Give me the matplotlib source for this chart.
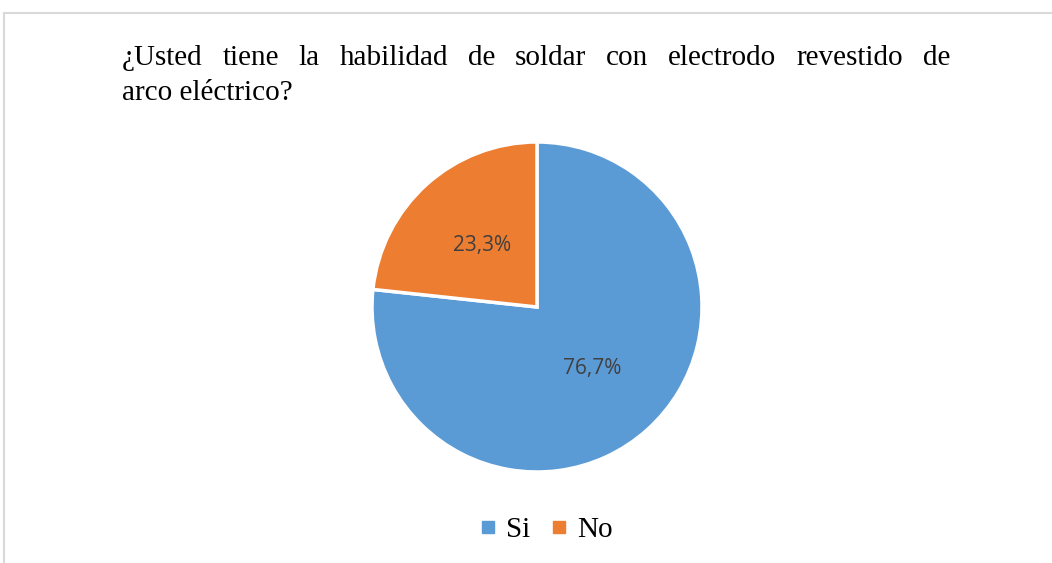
import matplotlib
matplotlib.use("Agg")
import matplotlib.pyplot as plt
from matplotlib.patches import Rectangle
from matplotlib.lines import Line2D

categories = ["Si", "No"]
values = [76.7, 23.3]
colors = ["#5B9BD5", "#ED7D31"]
title_line1 = "¿Usted tiene la habilidad de soldar con electrodo revestido de"
title_line2 = "arco eléctrico?"

W, H = 1052, 563
fig = plt.figure(figsize=(W/100, H/100), dpi=100)
fig.patch.set_facecolor("white")

# border
fig.patches.append(Rectangle((4/W, -0.1), 1.2, 1 - 13/H + 0.1, transform=fig.transFigure,
                             fill=False, edgecolor="#D9D9D9", linewidth=1.5))

# title, justified first line
serif = ["Liberation Serif", "DejaVu Serif"]
tsize = 21
x0, x1 = 122/W, 950/W
words = title_line1.split(" ")
renderer = fig.canvas.get_renderer()
texts = []
widths = []
for w in words:
    t = fig.text(0, 1 - 65/H, w, fontsize=tsize, family=serif, va="baseline", ha="left")
    bb = t.get_window_extent(renderer=renderer)
    texts.append(t)
    widths.append(bb.width / W)
gap = ((x1 - x0) - sum(widths)) / (len(words) - 1)
x = x0
for t, wd in zip(texts, widths):
    t.set_x(x)
    x += wd + gap
fig.text(x0, 1 - 100/H, title_line2, fontsize=tsize, family=serif, va="baseline", ha="left")

# pie
cx, cy, r = 537, 307, 165
ax = fig.add_axes([(cx - r)/W, (H - cy - r)/H, 2*r/W, 2*r/H])
wedges, _, autotexts = ax.pie(values, colors=colors, startangle=90, counterclock=False,
                              autopct=lambda p: f"{p:.1f}%".replace(".", ","),
                              pctdistance=0.5,
                              wedgeprops=dict(edgecolor="white", linewidth=2.5))
for t in autotexts:
    t.set_color("#404040")
    t.set_fontsize(15)
    t.set_family(["Open Sans", "DejaVu Sans"])
ax.set_xlim(-1, 1)
ax.set_ylim(-1, 1)
ax.set_aspect("equal")
ax.axis("off")

handles = [Line2D([], [], marker="s", linestyle="none", markersize=8.5,
                  markerfacecolor=c, markeredgecolor=c) for c in colors]
fig.legend(handles, categories, loc="center", bbox_to_anchor=(546/W, 1 - 530/H),
           ncol=2, frameon=False, prop=dict(family=serif, size=tsize),
           handletextpad=0.35, columnspacing=0.7, handlelength=0.55,
           borderpad=0, borderaxespad=0)

fig.savefig("out.png", dpi=100)
